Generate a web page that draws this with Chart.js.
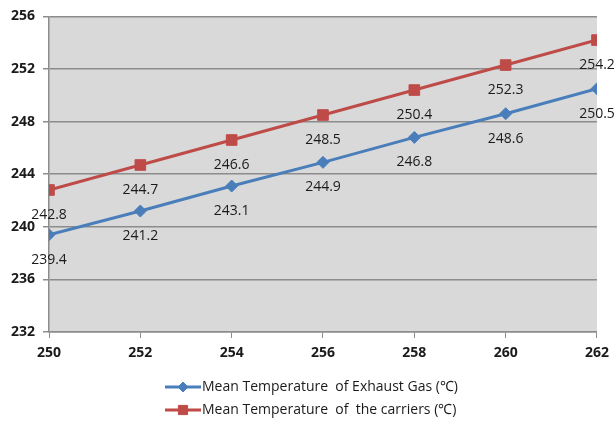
<!DOCTYPE html>
<html>
<head>
<meta charset="utf-8">
<script src="https://cdn.jsdelivr.net/npm/chart.js@4"></script>
<style>
  html, body { margin: 0; padding: 0; background: #fff; }
  #wrap { width: 616px; height: 429px; }
</style>
</head>
<body>
<div id="wrap"><canvas id="tempChart" width="616" height="429"></canvas></div>
<script>
const xValues = [250, 252, 254, 256, 258, 260, 262];
const exhaustGas = [239.4, 241.2, 243.1, 244.9, 246.8, 248.6, 250.5];
const carriers = [242.8, 244.7, 246.6, 248.5, 250.4, 252.3, 254.2];
const seriesNames = [
    "Mean Temperature  of Exhaust Gas (\u2103)",
    "Mean Temperature  of  the carriers (\u2103)"
];

const blue = "#4a7ebb";
const red = "#be4b48";
const gridGray = "#8c8c8c";

function toPoints(values) {
    return xValues.map(function (x, i) { return { x: x, y: values[i] }; });
}

// gray plot background, value labels and the Excel-like legend
const excelLook = {
    id: "excelLook",
    beforeDraw: function (chart) {
        const a = chart.chartArea;
        const c = chart.ctx;
        c.save();
        c.fillStyle = "#d9d9d9";
        c.fillRect(a.left, a.top, a.right - a.left, a.bottom - a.top);
        c.restore();
    },
    afterDatasetsDraw: function (chart) {
        const c = chart.ctx;
        c.save();
        c.font = "14px 'Open Sans'";
        c.fillStyle = "#1a1a1a";
        c.textAlign = "center";
        c.textBaseline = "middle";
        chart.data.datasets.forEach(function (ds, di) {
            chart.getDatasetMeta(di).data.forEach(function (pt, i) {
                c.fillText(ds.data[i].y.toFixed(1), pt.x, pt.y + 25);
            });
        });
        c.restore();
    },
    afterDraw: function (chart) {
        const c = chart.ctx;
        const left = 165;
        const rows = [387, 410];
        c.save();
        c.font = "14px 'Open Sans'";
        c.textBaseline = "middle";
        chart.data.datasets.forEach(function (ds, di) {
            const y = rows[di];
            c.strokeStyle = ds.borderColor;
            c.fillStyle = ds.borderColor;
            c.lineWidth = 3;
            c.beginPath();
            c.moveTo(left, y);
            c.lineTo(left + 36, y);
            c.stroke();
            c.lineWidth = 1;
            Chart.helpers.drawPoint(c, {
                pointStyle: ds.pointStyle,
                radius: ds.pointRadius - 1,
                rotation: 0,
                borderWidth: 1
            }, left + 18, y);
            c.fillStyle = "#1a1a1a";
            c.fillText(ds.label, left + 37, y);
        });
        c.restore();
    }
};

new Chart(document.getElementById("tempChart"), {
    type: "line",
    data: {
        datasets: [{
            label: seriesNames[0],
            data: toPoints(exhaustGas),
            borderColor: blue,
            backgroundColor: blue,
            borderWidth: 3,
            pointStyle: "rectRot",
            pointRadius: 6,
            pointBorderWidth: 1,
            pointBackgroundColor: blue,
            pointBorderColor: blue,
            tension: 0
        }, {
            label: seriesNames[1],
            data: toPoints(carriers),
            borderColor: red,
            backgroundColor: red,
            borderWidth: 3,
            pointStyle: "rect",
            pointRadius: 7.5,
            pointBorderWidth: 1,
            pointBackgroundColor: red,
            pointBorderColor: red,
            tension: 0
        }]
    },
    options: {
        responsive: false,
        animation: false,
        layout: { padding: { top: 16, right: 18, bottom: 70, left: 0 } },
        plugins: {
            legend: { display: false },
            tooltip: { enabled: false }
        },
        scales: {
            x: {
                type: "linear",
                min: 250,
                max: 262,
                ticks: {
                    stepSize: 2,
                    color: "#1a1a1a",
                    font: { family: "'Open Sans'", size: 14, weight: "bold" },
                    padding: 7
                },
                grid: {
                    drawOnChartArea: false,
                    color: gridGray,
                    tickLength: 6
                },
                border: { color: gridGray, width: 1.5 },
                afterFit: function (scale) { scale.height = 27; }
            },
            y: {
                min: 232,
                max: 256,
                ticks: {
                    stepSize: 4,
                    color: "#1a1a1a",
                    font: { family: "'Open Sans'", size: 14, weight: "bold" },
                    padding: 8
                },
                grid: {
                    color: gridGray,
                    lineWidth: 1.5,
                    tickLength: 6
                },
                border: { color: gridGray, width: 1.5 },
                afterFit: function (scale) { scale.width = 49; }
            }
        }
    },
    plugins: [excelLook]
});
</script>
</body>
</html>
